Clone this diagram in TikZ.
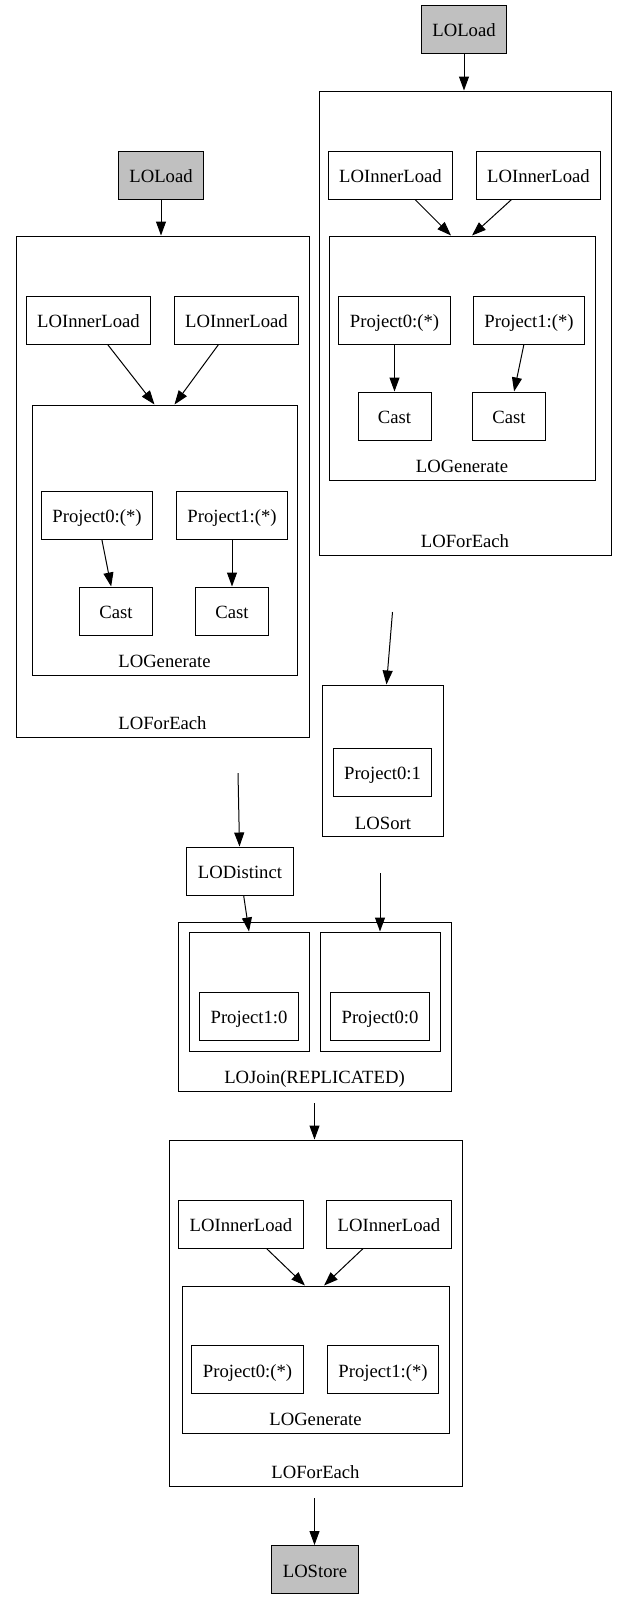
\documentclass[tikz,border=0pt]{standalone}
\usepackage{fontspec}
\setmainfont{Liberation Serif}
\usetikzlibrary{arrows.meta,fit,positioning}
\definecolor{load-gray}{HTML}{C0C0C0}

\begin{document}
\begin{tikzpicture}[x=1pt, y=-1pt, line width=1pt,
    op/.style={draw=black, minimum width=73pt, minimum height=48pt, inner xsep=11pt, inner ysep=0pt,
               text height=17pt, text depth=1.6pt, font=\fontsize{18.67}{22}\selectfont},
    load/.style={op, fill=load-gray},
    cluster/.style={draw=black, inner sep=0pt},
    clabel/.style={anchor=base, inner sep=0pt, font=\fontsize{18.67}{22}\selectfont},
    edge/.style={-{Triangle[length=14pt, width=10pt]}}]

    \useasboundingbox (0,0) rectangle (627,1599);

    % right load and its foreach
    \node[load] (loadR) at (464, 29) {LOLoad};
    \node[cluster, fit={(319, 91) (611, 555)}] (feR) {};
    \node[clabel] (feRlab) at ([yshift=8pt]feR.south) {LOForEach};
    \node[op] (innerR1) at (390.5, 175) {LOInnerLoad};
    \node[op] (innerR2) at (538.5, 175) {LOInnerLoad};
    \node[cluster, fit={(329, 236) (595, 480)}] (genR) {};
    \node[clabel] (genRlab) at ([yshift=8pt]genR.south) {LOGenerate};
    \node[op] (projR0) at (394.5, 320) {Project0:(*)};
    \node[op] (projR1) at (529, 320) {Project1:(*)};
    \node[op] (castR0) at (394.5, 416) {Cast};
    \node[op] (castR1) at (509, 416) {Cast};

    \draw[edge] (loadR) -- (loadR |- feR.north);
    \draw[edge] (innerR1) -- ([xshift=-11pt]genR.north);
    \draw[edge] (innerR2) -- ([xshift=10pt]genR.north);
    \draw[edge] (projR0) -- (castR0);
    \draw[edge] (projR1) -- (castR1);

    % left load and its foreach
    \node[load] (loadL) at (161, 175) {LOLoad};
    \node[cluster, fit={(16, 236) (309, 737)}] (feL) {};
    \node[clabel] (feLlab) at ([yshift=8pt]feL.south) {LOForEach};
    \node[op] (innerL1) at (88.5, 320) {LOInnerLoad};
    \node[op] (innerL2) at (236.5, 320) {LOInnerLoad};
    \node[cluster, fit={(32, 405) (297, 675)}] (genL) {};
    \node[clabel] (genLlab) at ([yshift=8pt]genL.south) {LOGenerate};
    \node[op] (projL0) at (97, 515) {Project0:(*)};
    \node[op] (projL1) at (232, 515) {Project1:(*)};
    \node[op] (castL0) at (116, 611) {Cast};
    \node[op] (castL1) at (232, 611) {Cast};

    \draw[edge] (loadL) -- (loadL |- feL.north);
    \draw[edge] (innerL1) -- ([xshift=-10pt]genL.north);
    \draw[edge] (innerL2) -- ([xshift=10pt]genL.north);
    \draw[edge] (projL0) -- (castL0);
    \draw[edge] (projL1) -- (castL1);

    % sort
    \coordinate (feRout) at (392.5, 612);
    \node[cluster, fit={(322.5, 685) (443.5, 836)}] (sort) {};
    \node[clabel] (sortlab) at ([yshift=7pt]sort.south) {LOSort};
    \node[op] (sort0) at (382.5, 772) {Project0:1};
    \draw[edge] (feRout) -- ([xshift=3.5pt]sort.north);

    % distinct
    \coordinate (feLout) at (238, 773);
    \node[op] (distinct) at (240, 871) {LODistinct};
    \draw[edge] (feLout) -- (distinct);

    % join
    \node[cluster, fit={(178, 922) (451, 1091)}] (join) {};
    \node[clabel] (joinlab) at ([yshift=8pt]join.south) {LOJoin(REPLICATED)};
    \node[cluster, fit={(189, 932) (309, 1051)}] (joinA) {};
    \node[cluster, fit={(320, 932) (440, 1051)}] (joinB) {};
    \node[op] (proj10) at (249, 1016) {Project1:0};
    \node[op] (proj00) at (380, 1016) {Project0:0};
    \coordinate (sortout) at (380, 873);
    \draw[edge] (distinct) -- (joinA.north);
    \draw[edge] (sortout) -- (sortout |- joinB.north);

    % last foreach and store
    \coordinate (joinout) at (314.5, 1103);
    \node[cluster, fit={(169, 1140) (462, 1486)}] (feB) {};
    \node[clabel] (feBlab) at ([yshift=8pt]feB.south) {LOForEach};
    \draw[edge] (joinout) -- (joinout |- feB.north);
    \node[op] (innerB1) at (241, 1224) {LOInnerLoad};
    \node[op] (innerB2) at (389, 1224) {LOInnerLoad};
    \node[cluster, fit={(182, 1286) (449, 1433)}] (genB) {};
    \node[clabel] (genBlab) at ([yshift=8pt]genB.south) {LOGenerate};
    \node[op] (projB0) at (247.5, 1369.5) {Project0:(*)};
    \node[op] (projB1) at (383, 1369.5) {Project1:(*)};
    \draw[edge] (innerB1) -- ([xshift=-10.5pt]genB.north);
    \draw[edge] (innerB2) -- ([xshift=8.5pt]genB.north);

    \coordinate (feBout) at (314.5, 1498);
    \node[load] (store) at (315, 1569.5) {LOStore};
    \draw[edge] (feBout) -- (feBout |- store.north);
\end{tikzpicture}
\end{document}
